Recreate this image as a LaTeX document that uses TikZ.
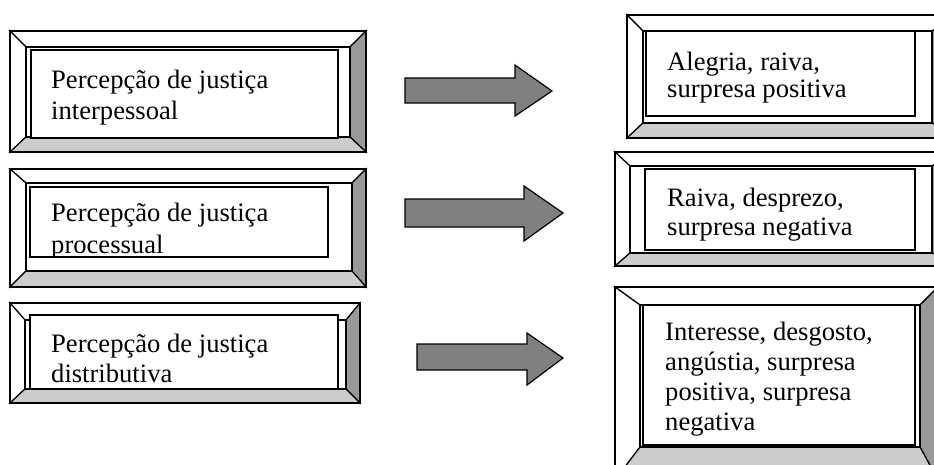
\documentclass[tikz,border=0pt]{standalone}
\usepackage{fontspec}
\setmainfont{Liberation Serif}
\begin{document}
\begin{tikzpicture}[x=1pt,y=-1pt,
  outl/.style={draw=black,line width=1.2pt,line join=miter},
  lite/.style={outl,fill=white},
  darkside/.style={outl,fill=black!40},
  midside/.style={outl,fill=black!20},
  tbox/.style={draw=black,line width=1.2pt},
  txt/.style={anchor=base west,inner sep=0pt,font=\fontsize{26.6}{31}\selectfont},
  blockarrow/.style={draw=black,line width=1.2pt,fill=black!50,line join=miter}]
\useasboundingbox (0,0) rectangle (934,464);
\clip (0,0) rectangle (934,464);
% bevel: #1..#4 outer (x1,y1,x2,y2), #5..#8 inner
\newcommand\mybevel[8]{%
  \path[lite] (#1,#2) -- (#3,#2) -- (#7,#6) -- (#5,#6) -- cycle;
  \path[lite] (#1,#2) -- (#5,#6) -- (#5,#8) -- (#1,#4) -- cycle;
  \path[darkside] (#3,#2) -- (#3,#4) -- (#7,#8) -- (#7,#6) -- cycle;
  \path[midside] (#1,#4) -- (#3,#4) -- (#7,#8) -- (#5,#8) -- cycle;
  \path[outl,fill=white] (#5,#6) rectangle (#7,#8);
  \path[outl] (#1,#2) rectangle (#3,#4);
}
% left boxes
\mybevel{10}{31}{366}{152}{26}{47}{350}{137}
\fill[white] (31,50) rectangle (338,138);
\node[txt] (l1a) at (51,88) {Percepção de justiça};
\node[txt] (l1b) at (51,119.5) {interpessoal};
\draw[tbox] (31,50) rectangle (338,138);

\mybevel{10}{169}{366}{287}{26}{183}{352}{271}
\fill[white] (30,187) rectangle (328,257);
\begin{scope}
\clip (30,187) rectangle (328,257);
\node[txt] (l2a) at (51,221.7) {Percepção de justiça};
\node[txt] (l2b) at (51,253.4) {processual};
\end{scope}
\draw[tbox] (30,187) rectangle (328,257);

\mybevel{10}{303}{360}{403}{25}{320}{346}{389}
\fill[white] (30,315) rectangle (338,389);
\node[txt] (l3a) at (51,352) {Percepção de justiça};
\node[txt] (l3b) at (51,382) {distributiva};
\draw[tbox] (30,315) rectangle (338,389);

% arrows
\path[blockarrow] (405,78) -- (515,78) -- (515,65) -- (552,91) -- (515,116) -- (515,103) -- (405,103) -- cycle;
\path[blockarrow] (405,199) -- (524,199) -- (524,186) -- (563,213) -- (524,241) -- (524,227) -- (405,227) -- cycle;
\path[blockarrow] (417,344) -- (527,344) -- (527,333) -- (563,358) -- (527,385) -- (527,370) -- (417,370) -- cycle;

% right boxes
\mybevel{627}{15}{960}{138}{643}{31}{932}{123}
\fill[white] (646,31) rectangle (915,116);
\node[txt] (r1a) at (667,70) {Alegria, raiva,};
\node[txt] (r1b) at (667,97) {surpresa positiva};
\draw[tbox] (646,31) rectangle (915,116);

\mybevel{615}{152}{960}{266}{630}{166}{932}{253}
\fill[white] (645,169) rectangle (915,250);
\node[txt] (r2a) at (667,206.7) {Raiva, desprezo,};
\node[txt] (r2b) at (667,235) {surpresa negativa};
\draw[tbox] (645,169) rectangle (915,250);

\mybevel{615}{287}{938}{480}{640}{305}{920}{447}
\fill[white] (643,305) rectangle (915,445);
\node[txt] (r3a) at (665,340) {Interesse, desgosto,};
\node[txt] (r3b) at (665,370) {angústia, surpresa};
\node[txt] (r3c) at (665,400) {positiva, surpresa};
\node[txt] (r3d) at (665,430) {negativa};
\draw[tbox] (643,305) rectangle (915,445);
\end{tikzpicture}
\end{document}
